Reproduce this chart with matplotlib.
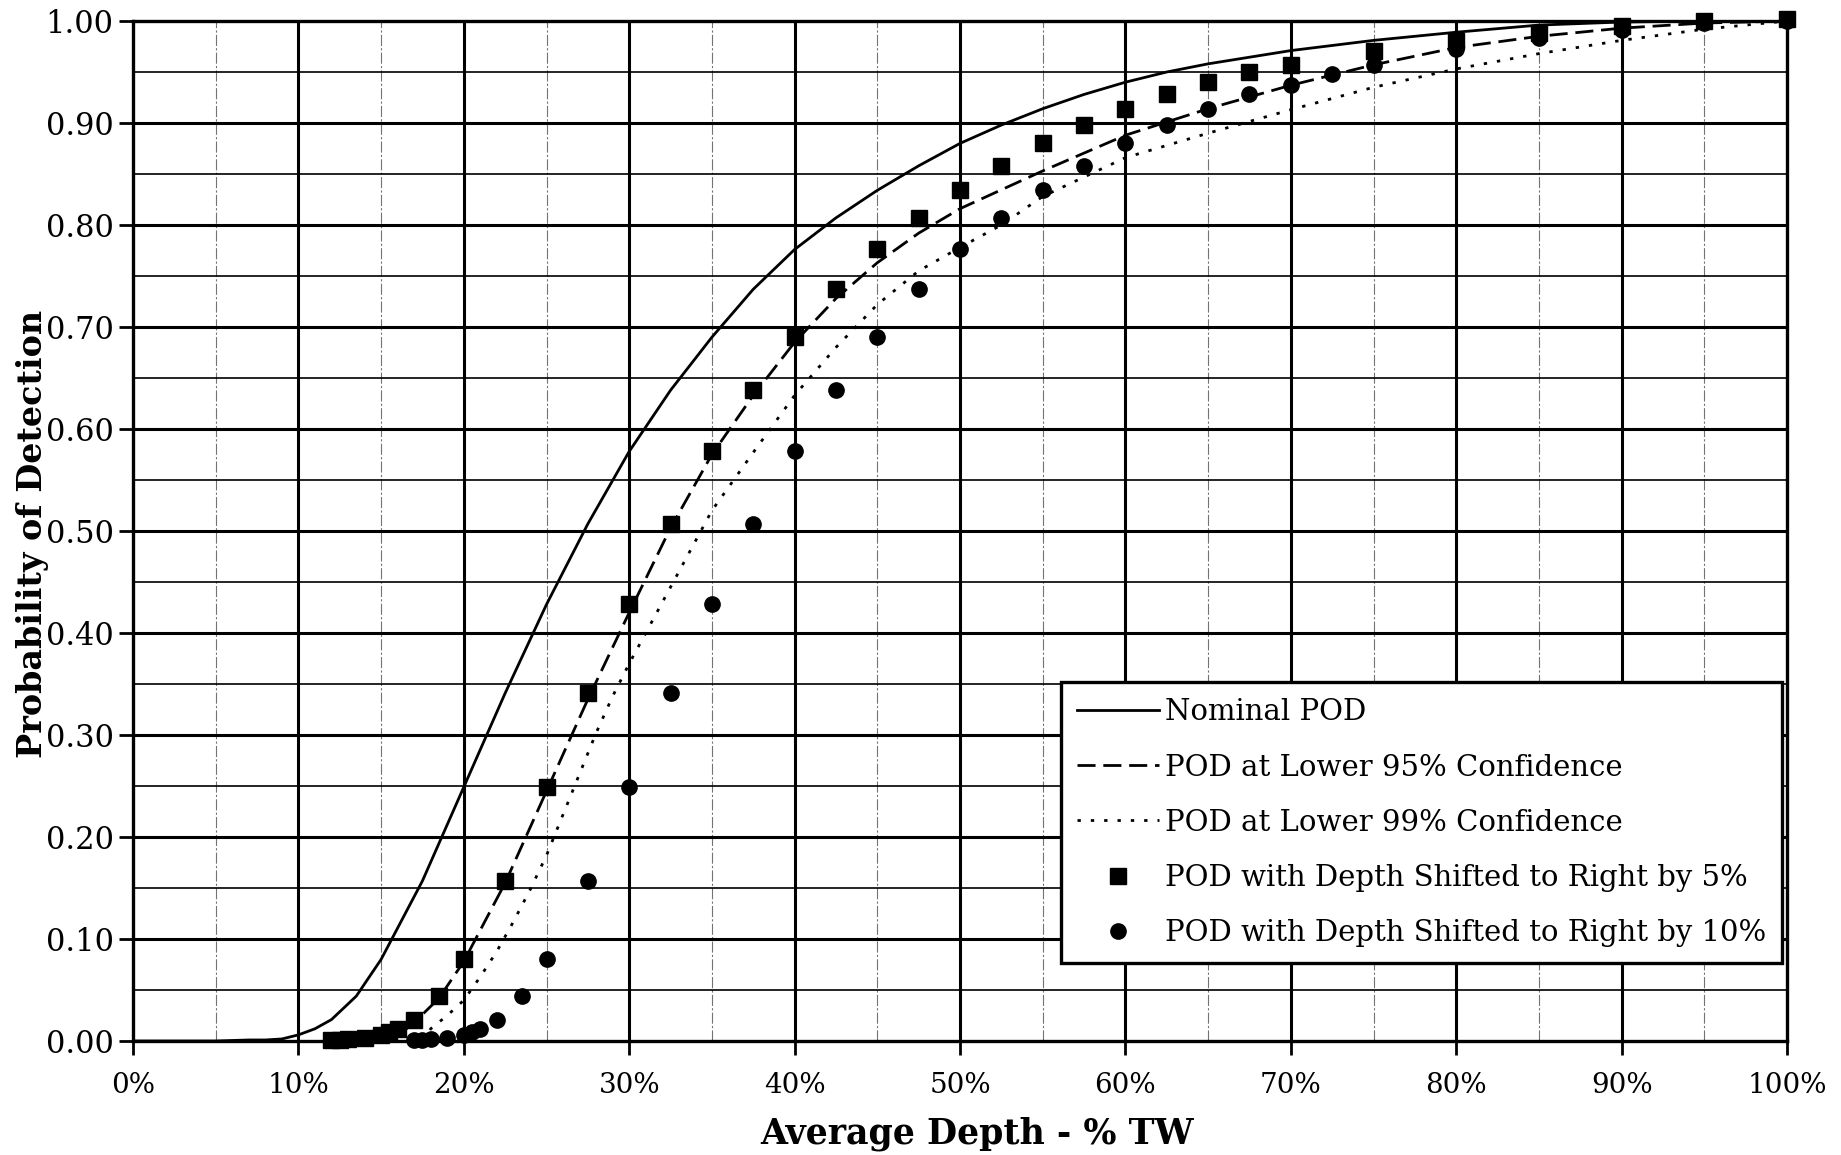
import matplotlib
matplotlib.use("Agg")
import matplotlib.pyplot as plt
from matplotlib.lines import Line2D
import numpy as np

# ---------------- data ----------------
depth_nominal = [0, 5, 7, 8, 9, 10, 11, 12, 13.5, 15, 17.5, 20, 22.5, 25, 27.5, 30,
                 32.5, 35, 37.5, 40, 42.5, 45, 47.5, 50, 52.5, 55, 57.5, 60, 62.5,
                 65, 70, 75, 80, 85, 90, 95, 100]
pod_nominal = [0.0, 0.0, 0.001, 0.001, 0.002, 0.006, 0.012, 0.021, 0.044, 0.080,
               0.157, 0.249, 0.341, 0.428, 0.507, 0.578, 0.638, 0.690, 0.737, 0.776,
               0.807, 0.834, 0.858, 0.880, 0.898, 0.914, 0.928, 0.940, 0.950, 0.958,
               0.971, 0.981, 0.989, 0.996, 0.999, 1.0, 1.0]

depth_95 = [15, 16, 17, 18.5, 20, 22.5, 25, 27.5, 30, 32.5, 35, 37.5, 40, 42.5, 45,
            47.5, 50, 55, 60, 65, 70, 75, 80, 85, 90, 95, 100]
pod_95 = [0.0, 0.005, 0.018, 0.042, 0.078, 0.155, 0.245, 0.335, 0.420, 0.503, 0.575,
          0.633, 0.685, 0.728, 0.763, 0.792, 0.816, 0.853, 0.888, 0.914, 0.937,
          0.957, 0.974, 0.985, 0.993, 0.998, 1.0]

depth_99 = [17.5, 18, 19, 20, 21, 22, 23, 24, 25, 26, 27, 28, 29, 30, 32.5, 35, 37.5,
            40, 42.5, 45, 47.5, 50, 52.5, 55, 60, 65, 70, 75, 80, 85, 90, 95, 100]
pod_99 = [0.0, 0.012, 0.025, 0.040, 0.063, 0.088, 0.117, 0.148, 0.182, 0.222, 0.262,
          0.302, 0.338, 0.370, 0.445, 0.520, 0.577, 0.633, 0.680, 0.722, 0.755, 0.778,
          0.800, 0.828, 0.866, 0.890, 0.913, 0.935, 0.953, 0.968, 0.981, 0.992, 1.0]

depth_shift5 = [12, 12.5, 13, 14, 15, 15.5, 16, 17, 18.5, 20, 22.5, 25, 27.5, 30, 32.5,
                35, 37.5, 40, 42.5, 45, 47.5, 50, 52.5, 55, 57.5, 60, 62.5, 65, 67.5,
                70, 75, 80, 85, 90, 95, 100]
pod_shift5 = [0.001, 0.001, 0.002, 0.003, 0.006, 0.009, 0.012, 0.021, 0.044, 0.080,
              0.157, 0.249, 0.341, 0.428, 0.507, 0.578, 0.638, 0.690, 0.737, 0.776,
              0.807, 0.834, 0.858, 0.880, 0.898, 0.914, 0.928, 0.940, 0.950, 0.957,
              0.971, 0.980, 0.988, 0.995, 1.0, 1.002]

depth_shift10 = [17, 17.5, 18, 19, 20, 20.5, 21, 22, 23.5, 25, 27.5, 30, 32.5, 35, 37.5,
                 40, 42.5, 45, 47.5, 50, 52.5, 55, 57.5, 60, 62.5, 65, 67.5, 70, 72.5,
                 75, 80, 85, 90, 95, 100]
pod_shift10 = [0.001, 0.001, 0.002, 0.003, 0.006, 0.009, 0.012, 0.021, 0.044, 0.080,
               0.157, 0.249, 0.341, 0.428, 0.507, 0.578, 0.638, 0.690, 0.737, 0.776,
               0.807, 0.834, 0.858, 0.880, 0.898, 0.914, 0.928, 0.937, 0.948, 0.957,
               0.973, 0.983, 0.991, 0.998, 1.0]

x_ticks = [0, 10, 20, 30, 40, 50, 60, 70, 80, 90, 100]
x_tick_labels = ["0%", "10%", "20%", "30%", "40%", "50%", "60%", "70%", "80%", "90%", "100%"]
y_ticks = [0.0, 0.1, 0.2, 0.3, 0.4, 0.5, 0.6, 0.7, 0.8, 0.9, 1.0]
y_tick_labels = ["0.00", "0.10", "0.20", "0.30", "0.40", "0.50", "0.60", "0.70", "0.80", "0.90", "1.00"]

labels = ["Nominal POD", "POD at Lower 95% Confidence", "POD at Lower 99% Confidence",
          "POD with Depth Shifted to Right by 5%", "POD with Depth Shifted to Right by 10%"]

# ---------------- figure ----------------
plt.rcParams['font.family'] = ['DejaVu Serif']
W, H = 1841, 1155
fig = plt.figure(figsize=(W / 100, H / 100), dpi=100)
ax_l, ax_r, ax_t, ax_b = 133, 1787, 21, 1041
ax = fig.add_axes([ax_l / W, 1 - ax_b / H, (ax_r - ax_l) / W, (ax_b - ax_t) / H])

ax.set_xlim(0, 100)
ax.set_ylim(0, 1.0)

# grid
for x in np.arange(5, 100, 10):
    ax.axvline(x, color='0.45', lw=0.8, dashes=(10, 2, 2, 2), zorder=1)
for x in np.arange(10, 100, 10):
    ax.axvline(x, color='black', lw=2.2, zorder=1.2)
for y in np.arange(0.05, 1.0, 0.1):
    ax.axhline(y, color='black', lw=1.2, zorder=1.1)
for y in np.arange(0.1, 1.0, 0.1):
    ax.axhline(y, color='black', lw=2.2, zorder=1.2)

for s in ax.spines.values():
    s.set_linewidth(2.4)
    s.set_zorder(5)

ax.set_xticks(x_ticks)
ax.set_xticklabels(x_tick_labels)
ax.set_yticks(y_ticks)
ax.set_yticklabels(y_tick_labels)
ax.tick_params(axis='x', direction='out', length=10, width=2.0, pad=12, labelsize=20)
ax.tick_params(axis='y', direction='out', length=10, width=2.0, pad=4, labelsize=22)

# curves
ax.plot(depth_nominal, pod_nominal, color='black', lw=2.0, zorder=3)
ax.plot(depth_95, pod_95, color='black', lw=2.0, dashes=(6.5, 2.8), zorder=3)
ax.plot(depth_99, pod_99, color='black', lw=2.0, dashes=(1.2, 3.6), zorder=3)
ax.plot(depth_shift5, pod_shift5, linestyle='none', marker='s', ms=11,
        color='black', zorder=4, clip_on=False)
ax.plot(depth_shift10, pod_shift10, linestyle='none', marker='o', ms=11,
        color='black', zorder=4, clip_on=False)

ax.set_xlabel("Average Depth - % TW", fontsize=25, fontweight='bold')
ax.xaxis.set_label_coords((977 - ax_l) / (ax_r - ax_l), (ax_b - 1134) / (ax_b - ax_t))
ax.xaxis.label.set_va('center')
ax.set_ylabel("Probability of Detection", fontsize=24, fontweight='bold')
ax.yaxis.set_label_coords((33 - ax_l) / (ax_r - ax_l), (ax_b - 534) / (ax_b - ax_t))
ax.yaxis.label.set_va('center')

handles = [
    Line2D([], [], color='black', lw=2.0),
    Line2D([], [], color='black', lw=2.0, dashes=(6.5, 2.8)),
    Line2D([], [], color='black', lw=2.0, dashes=(1.2, 3.6)),
    Line2D([], [], color='black', linestyle='none', marker='s', ms=11),
    Line2D([], [], color='black', linestyle='none', marker='o', ms=11),
]
leg = ax.legend(handles, labels, loc='lower right',
                bbox_to_anchor=((1782 - ax_l) / (ax_r - ax_l), (ax_b - 963) / (ax_b - ax_t)),
                fontsize=21, frameon=True, fancybox=False, shadow=False,
                handlelength=2.8, handletextpad=0.2, labelspacing=0.93,
                borderpad=0.55, borderaxespad=0.0, framealpha=1.0)
leg.get_frame().set_edgecolor('black')
leg.get_frame().set_linewidth(2.4)
leg.set_zorder(10)

fig.savefig("out.png", dpi=100, facecolor='white')
